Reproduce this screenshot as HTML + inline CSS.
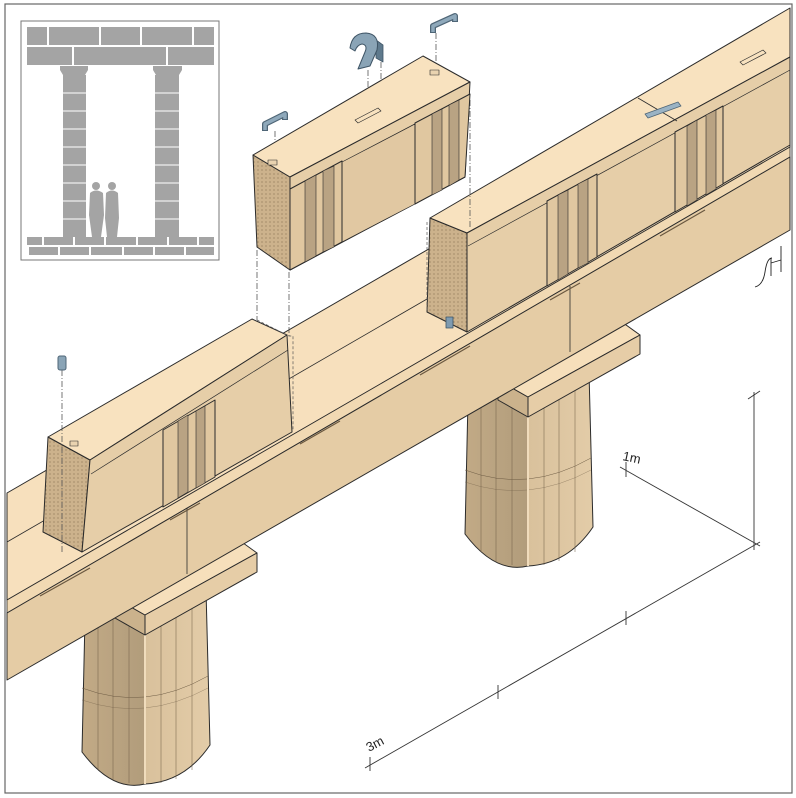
<!DOCTYPE html>
<html><head><meta charset="utf-8"><style>html,body{margin:0;padding:0;background:#fff}svg{display:block}</style></head>
<body>
<svg width="796" height="798" viewBox="0 0 796 798" xmlns="http://www.w3.org/2000/svg">
<defs>
<pattern id="dots" width="4" height="4" patternUnits="userSpaceOnUse"><rect width="4" height="4" fill="#ccb28c"/><circle cx="2" cy="2" r="0.6" fill="#8a7454"/></pattern>
<linearGradient id="col" x1="0" x2="1" y1="0" y2="0">
<stop offset="0" stop-color="#c2aa86"/><stop offset="0.5" stop-color="#b19c7b"/><stop offset="0.5" stop-color="#d9c19c"/><stop offset="1" stop-color="#e3cca8"/></linearGradient>
<clipPath id="fr"><rect x="5" y="4" width="787" height="789"/></clipPath>
<g id="column">
<path d="M85,618 L82,752 Q112,792 145,784 Q185,782 210,745 L206,590 Z" fill="url(#col)" stroke="#2b2b2b" stroke-width="1"/>
<g stroke="#6e5c44" stroke-width="0.5" fill="none">
<path d="M98,620V770M113,615V780M129,612V783M161,610V783M176,605V779M192,600V770"/>
<path d="M82,688 Q145,712 208,676"/><path d="M82,700 Q145,722 208,688" stroke-width="0.3"/>
</g>
<line x1="145" y1="630" x2="145" y2="784" stroke="#f0dcbc" stroke-width="2"/>
<polygon points="115,598 145,615 145,635 115,618" fill="#cbb28c" stroke="#2b2b2b"/>
<polygon points="115,598 232,535 257,553 145,615" fill="#f6dfbb" stroke="#2b2b2b"/>
<polygon points="145,615 257,553 257,572 145,635" fill="#e6cda7" stroke="#2b2b2b"/>
</g>
</defs>
<rect width="796" height="798" fill="#fff"/>
<g clip-path="url(#fr)" stroke-linejoin="round">
<use href="#column"/>
<use href="#column" transform="translate(383,-218)"/>
<!-- architrave -->
<polygon points="7,493 790,40 790,147 7,600" fill="#f7e0bd" stroke="#2b2b2b"/>
<line x1="7" y1="542" x2="790" y2="89" stroke="#2b2b2b" stroke-width="0.8"/>
<polygon points="7,600 790,147 790,157 7,613" fill="#f1d9b3" stroke="#2b2b2b" stroke-width="0.8"/>
<polygon points="7,613 790,157 790,230 7,680" fill="#e5cca5" stroke="#2b2b2b"/>
<line x1="187" y1="508" x2="187" y2="574" stroke="#2b2b2b" stroke-width="0.8"/>
<line x1="570" y1="286" x2="570" y2="352" stroke="#2b2b2b" stroke-width="0.8"/>
<g stroke="#6a5840" stroke-width="1.2">
<line x1="40" y1="596" x2="90" y2="568"/><line x1="170" y1="520" x2="200" y2="503"/><line x1="300" y1="444" x2="340" y2="421"/><line x1="420" y1="375" x2="470" y2="346"/><line x1="550" y1="300" x2="580" y2="283"/><line x1="660" y1="236" x2="705" y2="210"/>
</g>
<!-- frieze block 1 -->
<polygon points="48,437 90,460 82,552 43,532" fill="url(#dots)" stroke="#2b2b2b"/>
<polygon points="48,437 252,319 287,335 90,460" fill="#f8e2bf" stroke="#2b2b2b"/>
<polygon points="90,460 287,335 292,432 82,552" fill="#e6cea8" stroke="#2b2b2b"/>
<line x1="91" y1="474" x2="288" y2="350" stroke="#2b2b2b" stroke-width="0.7"/>
<polygon points="163,430 215,400 215,477 163,507" fill="#e0c7a0" stroke="#2b2b2b"/>
<polygon points="178,421 188,415 188,492 178,498" fill="#b9a383" stroke="#2b2b2b" stroke-width="0.6"/>
<polygon points="196,411 205,406 205,483 196,488" fill="#b9a383" stroke="#2b2b2b" stroke-width="0.6"/>
<rect x="70" y="441" width="8" height="5" fill="#e9d3b0" stroke="#2b2b2b" stroke-width="0.6"/>
<line x1="62" y1="370" x2="62" y2="552" stroke="#555" stroke-width="0.8" stroke-dasharray="6 2 1 2"/>
<rect x="58" y="356" width="8" height="14" rx="2" fill="#8aa4b6" stroke="#4f6677"/>
<!-- frieze block 2 -->
<polygon points="430,218 467,233 467,332 427,312" fill="url(#dots)" stroke="#2b2b2b"/>
<polygon points="430,218 790,8 790,57 467,233" fill="#f8e2bf" stroke="#2b2b2b"/>
<polygon points="467,233 790,57 790,145 467,332" fill="#e6cea8" stroke="#2b2b2b"/>
<line x1="468" y1="246" x2="790" y2="70" stroke="#2b2b2b" stroke-width="0.7"/>
<line x1="638" y1="98" x2="677" y2="121" stroke="#2b2b2b" stroke-width="0.8"/>
<polygon points="547,201 597,174 597,257 547,286" fill="#e0c7a0" stroke="#2b2b2b"/>
<polygon points="558,195 568,190 568,274 558,280" fill="#b9a383" stroke="#2b2b2b" stroke-width="0.6"/>
<polygon points="578,184 588,179 588,263 578,268" fill="#b9a383" stroke="#2b2b2b" stroke-width="0.6"/>
<polygon points="675,132 723,106 723,184 675,212" fill="#e0c7a0" stroke="#2b2b2b"/>
<polygon points="687,126 697,120 697,200 687,206" fill="#b9a383" stroke="#2b2b2b" stroke-width="0.6"/>
<polygon points="706,115 716,110 716,189 706,195" fill="#b9a383" stroke="#2b2b2b" stroke-width="0.6"/>
<polygon points="645,114 678,102 681,106 648,118" fill="#9ab3c4" stroke="#4f6677" stroke-width="0.8"/>
<polygon points="740,62 763,50 766,53 743,65" fill="none" stroke="#2b2b2b" stroke-width="0.7"/>
<rect x="446" y="317" width="7" height="11" fill="#7f9bb0" stroke="#3f5566" stroke-width="0.8"/>
<!-- dash connectors -->
<g stroke="#555" stroke-width="0.8" stroke-dasharray="6 2 1 2" fill="none">
<line x1="257" y1="250" x2="257" y2="320"/><line x1="289" y1="272" x2="289" y2="336"/>
<line x1="470" y1="100" x2="470" y2="227"/><line x1="436" y1="33" x2="436" y2="75"/>
<line x1="275" y1="131" x2="275" y2="163"/><line x1="368" y1="70" x2="368" y2="118"/><line x1="381" y1="62" x2="381" y2="110"/>
</g>
<polyline points="257,320 289,336 293,336 293,430" fill="none" stroke="#555" stroke-width="0.7" stroke-dasharray="3 2"/>
<line x1="427" y1="222" x2="427" y2="312" stroke="#555" stroke-width="0.7" stroke-dasharray="3 2"/>
<!-- floating block -->
<polygon points="253,155 290,177 290,270 257,247" fill="url(#dots)" stroke="#2b2b2b"/>
<polygon points="253,155 423,56 470,82 290,177" fill="#f8e2bf" stroke="#2b2b2b"/>
<polygon points="290,177 470,82 465,177 290,270" fill="#e6cea8" stroke="#2b2b2b"/>
<line x1="291" y1="190" x2="469" y2="95" stroke="#2b2b2b" stroke-width="0.7"/>
<polygon points="342,162 415,124 415,204 342,242" fill="#e1c8a2" stroke="#2b2b2b" stroke-width="0.7"/>
<polygon points="290,189 342,161 342,242 290,270" fill="#e0c7a0" stroke="#2b2b2b"/>
<polygon points="305,181 316,175 316,256 305,262" fill="#b9a383" stroke="#2b2b2b" stroke-width="0.6"/>
<polygon points="323,171 334,166 334,247 323,252" fill="#b9a383" stroke="#2b2b2b" stroke-width="0.6"/>
<polygon points="415,123 470,94 465,177 415,204" fill="#e0c7a0" stroke="#2b2b2b"/>
<polygon points="432,114 442,109 442,190 432,195" fill="#b9a383" stroke="#2b2b2b" stroke-width="0.6"/>
<polygon points="449,105 459,100 459,180 449,186" fill="#b9a383" stroke="#2b2b2b" stroke-width="0.6"/>
<polygon points="355,120 378,108 381,111 358,123" fill="none" stroke="#2b2b2b" stroke-width="0.7"/>
<rect x="268" y="160" width="9" height="5" fill="#e9d3b0" stroke="#2b2b2b" stroke-width="0.6"/>
<rect x="430" y="70" width="9" height="5" fill="#e9d3b0" stroke="#2b2b2b" stroke-width="0.6"/>
<!-- blue clamps -->
<polyline points="265,131 265,124 285,114 285,120" fill="none" stroke="#4f6677" stroke-width="6" stroke-linejoin="round"/>
<polyline points="265,130 265,124 285,114 285,119" fill="none" stroke="#8fa9bb" stroke-width="3.5" stroke-linejoin="round"/>
<polyline points="433,33 433,26 455,16 455,22" fill="none" stroke="#4f6677" stroke-width="6" stroke-linejoin="round"/>
<polyline points="433,32 433,26 455,16 455,21" fill="none" stroke="#8fa9bb" stroke-width="3.5" stroke-linejoin="round"/>
<path d="M376,40 L383,45 L383,62 L376,58 Z" fill="#5f7a8d" stroke="#3f5566" stroke-width="0.8"/>
<path d="M358,69 L365,52 Q368,45 362,44 Q357,45 355,51 L350,48 Q352,33 366,33 Q380,34 377,50 L370,66 Z" fill="#8aa4b6" stroke="#3f5566"/>
<!-- dimensions -->
<g stroke="#333" stroke-width="0.9" fill="none">
<line x1="365" y1="768" x2="760" y2="542"/>
<line x1="370" y1="757" x2="370" y2="771"/><line x1="498" y1="685" x2="498" y2="699"/><line x1="626" y1="611" x2="626" y2="625"/>
<line x1="754" y1="392" x2="754" y2="550"/><line x1="748" y1="399" x2="760" y2="391"/>
<line x1="620" y1="467" x2="760" y2="546"/><line x1="626" y1="462" x2="626" y2="477"/>
<path d="M755,287 Q763,285 765,272 Q767,258 772,258 M771,258 V276 M781,246 V272 M771,263 L781,260" stroke="#222"/>
</g>
<text x="622" y="460" font-family="Liberation Sans, sans-serif" font-size="13" fill="#222" transform="rotate(12 622 460)">1m</text>
<text x="369" y="752" font-family="Liberation Sans, sans-serif" font-size="13" fill="#222" transform="rotate(-28 369 752)">3m</text>
</g>
<!-- inset -->
<rect x="21" y="21" width="198" height="239" fill="#fff" stroke="#777" stroke-width="1"/>
<g fill="#a4a4a4">
<rect x="27" y="27" width="20" height="18"/><rect x="49" y="27" width="50" height="18"/><rect x="101" y="27" width="39" height="18"/><rect x="142" y="27" width="50" height="18"/><rect x="194" y="27" width="20" height="18"/>
<rect x="27" y="47" width="45" height="18"/><rect x="74" y="47" width="92" height="18"/><rect x="168" y="47" width="46" height="18"/>
<path d="M60,66 H88 V70 L85,75 H63 L60,70 Z"/><rect x="63" y="75" width="23" height="162"/>
<path d="M153,66 H182 V70 L179,75 H156 L153,70 Z"/><rect x="155" y="75" width="24" height="162"/>
<rect x="27" y="237" width="15" height="8"/><rect x="44" y="237" width="29" height="8"/><rect x="75" y="237" width="29" height="8"/><rect x="106" y="237" width="30" height="8"/><rect x="138" y="237" width="29" height="8"/><rect x="169" y="237" width="28" height="8"/><rect x="199" y="237" width="15" height="8"/>
<rect x="29" y="247" width="29" height="8"/><rect x="60" y="247" width="29" height="8"/><rect x="91" y="247" width="31" height="8"/><rect x="124" y="247" width="29" height="8"/><rect x="155" y="247" width="29" height="8"/><rect x="186" y="247" width="28" height="8"/>
<circle cx="96" cy="186" r="4"/><path d="M90,193 Q96,188 103,193 L104,215 L101,237 H92 L89,215 Z"/>
<circle cx="112" cy="186" r="4"/><path d="M106,193 Q112,188 118,193 L119,218 L117,237 H107 L105,218 Z"/>
</g>
<g stroke="#fff" stroke-width="1">
<path d="M63,93H86M63,111H86M63,129H86M63,147H86M63,165H86M63,183H86M63,201H86M63,219H86"/>
<path d="M155,93H179M155,111H179M155,129H179M155,147H179M155,165H179M155,183H179M155,201H179M155,219H179"/>
</g>
<rect x="5" y="4" width="787" height="789" fill="none" stroke="#666" stroke-width="1.2"/>
</svg>
</body></html>
